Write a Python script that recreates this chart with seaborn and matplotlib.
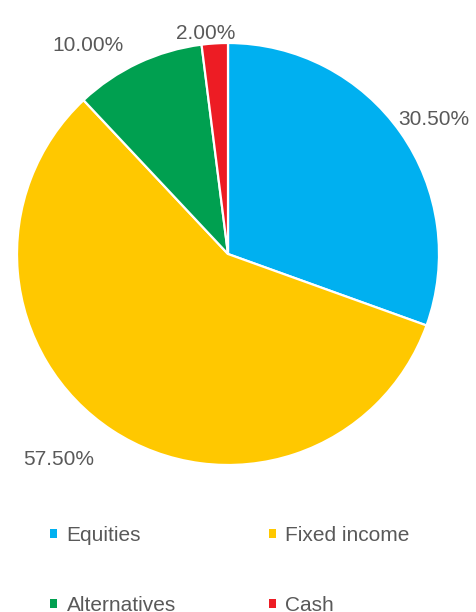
import matplotlib
matplotlib.use("Agg")
import matplotlib.pyplot as plt
import seaborn as sns

# allocation data
categories = ["Equities", "Fixed income", "Alternatives", "Cash"]
shares = [30.5, 57.5, 10.0, 2.0]
colors = ["#00B0F0", "#FFC800", "#00A050", "#ED1C24"]

# label centres in pie units (radius = 1)
label_pos = [(0.976, 0.637), (-0.802, -0.972), (-0.665, 0.988), (-0.108, 1.047)]

sns.set_theme(style="white")
plt.rcParams["font.family"] = ["Liberation Sans", "DejaVu Sans"]
text_color = "#595959"

fig = plt.figure(figsize=(4.76, 6.12), dpi=100)
# pie centre ~(228, 254) px, radius ~211 px
ax = fig.add_axes([(228 - 211) / 476, (612 - 254 - 211) / 612, 422 / 476, 422 / 612])

wedges, texts = ax.pie(
    shares,
    colors=colors,
    startangle=90,
    counterclock=False,
    labels=[f"{v:.2f}%" for v in shares],
    labeldistance=1.15,
    wedgeprops=dict(edgecolor="white", linewidth=1.6),
    textprops=dict(fontsize=15, color=text_color),
)
for t, (x, y) in zip(texts, label_pos):
    t.set_position((x, y))
    t.set_ha("center")
    t.set_va("center")

ax.set_xlim(-1, 1)
ax.set_ylim(-1, 1)
ax.set_aspect("equal")
ax.axis("off")

# legend fills column-wise, so reorder to get row-wise reading order
# (the second row is cut by the bottom edge, as in the original)
order = [0, 2, 1, 3]
leg = fig.legend(
    [wedges[i] for i in order], [categories[i] for i in order],
    loc="upper left",
    bbox_to_anchor=(50 / 476, 1 - 526 / 612),
    ncol=2,
    frameon=False,
    fontsize=15,
    handlelength=0.35,
    handleheight=0.35,
    handletextpad=0.45,
    columnspacing=4.45,
    labelspacing=2.45,
    borderpad=0,
    borderaxespad=0,
)
for t in leg.get_texts():
    t.set_color(text_color)
for h in leg.legend_handles:
    h.set_linewidth(0)

fig.savefig("out.png", dpi=100)
